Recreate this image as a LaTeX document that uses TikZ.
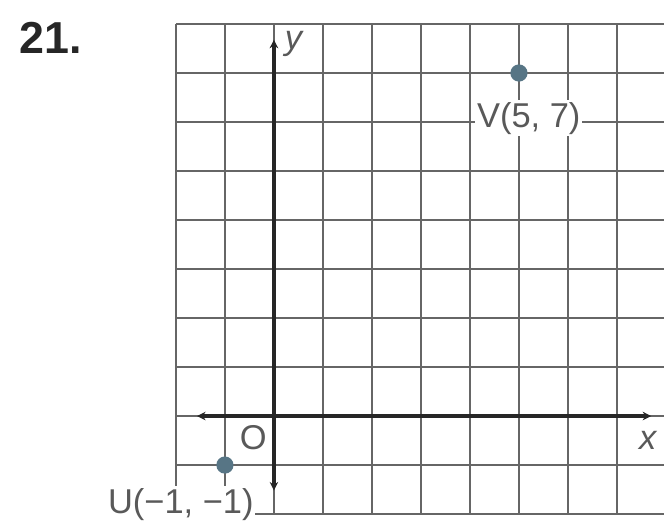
\documentclass[tikz,border=0pt]{standalone}
\usepackage{fontspec}
\setmainfont{Liberation Sans}
\usetikzlibrary{arrows.meta}
\tikzset{
  gridline/.style={draw=black!60,line width=1.6pt},
  axisline/.style={draw=black!85,line width=1.9pt,{Stealth[length=5pt,width=5pt]}-{Stealth[length=5pt,width=5pt]}},
  pt/.style={circle,fill=cyan!40!black!90,inner sep=0pt,minimum size=10pt},
  lbl/.style={text=black!65,font=\fontsize{20}{24}\selectfont,inner sep=1pt},
}
\begin{document}
\begin{tikzpicture}
        \useasboundingbox (-5.59,-2.14) rectangle (7.96,8.49);
        \draw[gridline] (-2,-2) grid (8,8);
        \coordinate (xl) at (-1.57,0);
        \coordinate (xr) at (7.7,0);
        \coordinate (yb) at (0,-1.52);
        \coordinate (yt) at (0,7.68);
        \draw[axisline] (xl) -- (xr);
        \draw[axisline] (yb) -- (yt);
        \node[lbl] (ylab) at (0.4,7.6) {\itshape y};
        \node[lbl] (xlab) at (7.63,-0.5) {\itshape x};
        \node[lbl] (O) at (-0.42,-0.44) {O};
        \node[pt] (V) at (5,7) {};
        \node[pt] (U) at (-1,-1) {};
        \node[lbl,fill=white] (Vlab) at (5.2,6.08) {V(5, 7)};
        \node[lbl,fill=white] (Ulab) at (-1.9,-1.8) {U(−1, −1)};
        \node[font=\fontsize{26}{30}\selectfont\bfseries,text=black!85] (num) at (-4.55,7.72) {21.};
\end{tikzpicture}
\end{document}
